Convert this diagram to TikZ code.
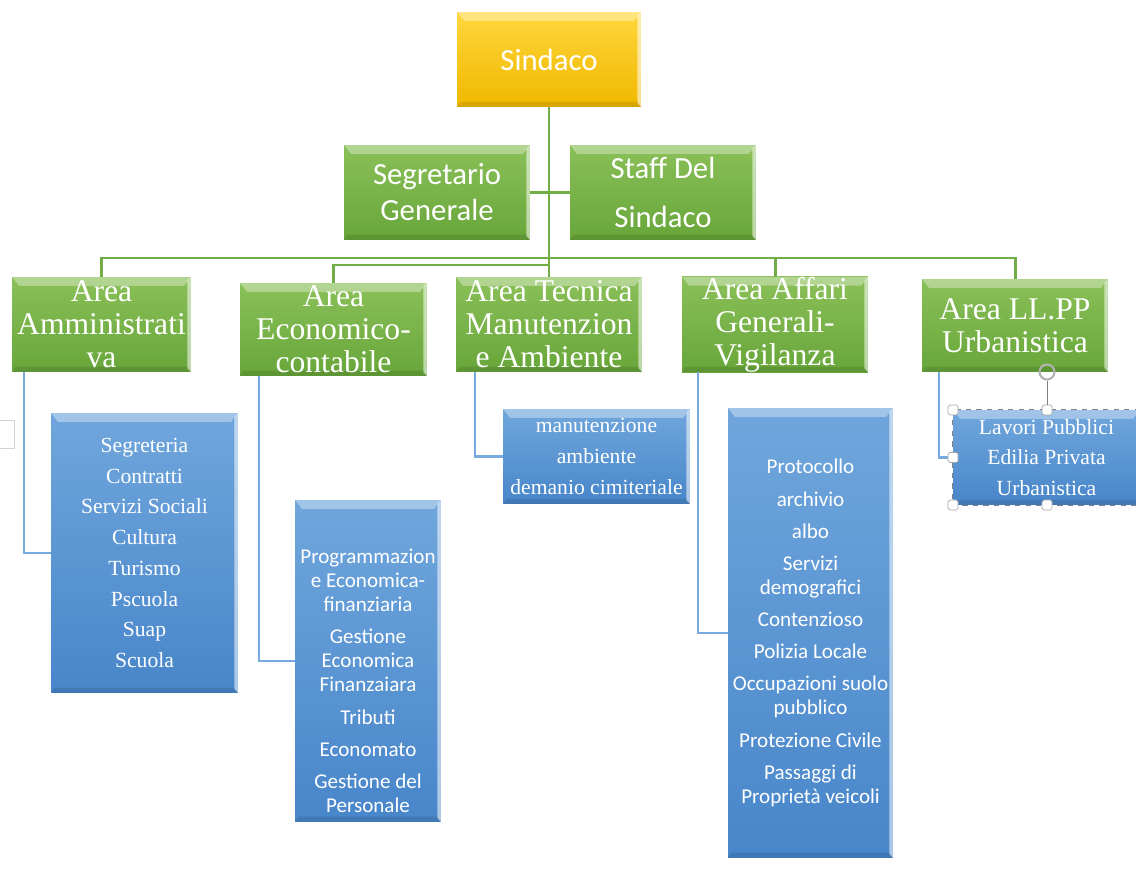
\documentclass[tikz,border=0pt]{standalone}
\usepackage{fontspec}
\setmainfont{Liberation Serif}
\newfontfamily\calibri{Carlito}
\usetikzlibrary{positioning}

\definecolor{goldtop}{RGB}{255,214,60}
\definecolor{goldbot}{RGB}{240,184,0}
\definecolor{greentop}{RGB}{138,192,88}
\definecolor{greenbot}{RGB}{104,166,58}
\definecolor{bluetop}{RGB}{112,166,220}
\definecolor{bluebot}{RGB}{72,134,202}
\definecolor{greenline}{RGB}{112,173,71}
\definecolor{blueline}{RGB}{120,170,222}

\begin{document}
\begin{tikzpicture}[x=0.02cm,y=-0.02cm,
    bevel/.style={path picture={
      \fill[white,opacity=0.35] (path picture bounding box.north west) -- (path picture bounding box.north east)
        -- ([shift={(-4pt,-5pt)}]path picture bounding box.north east) -- ([shift={(4pt,-5pt)}]path picture bounding box.north west) -- cycle;
      \fill[white,opacity=0.55] (path picture bounding box.north east) -- (path picture bounding box.south east)
        -- ([shift={(-2pt,2pt)}]path picture bounding box.south east) -- ([shift={(-2pt,-2pt)}]path picture bounding box.north east) -- cycle;
      \fill[black,opacity=0.10] (path picture bounding box.south west) -- (path picture bounding box.south east)
        -- ([shift={(-2pt,3pt)}]path picture bounding box.south east) -- ([shift={(2pt,3pt)}]path picture bounding box.south west) -- cycle;}},
    boss box/.style={bevel,top color=goldtop,bottom color=goldbot,text=white,align=center,inner sep=0pt,
      minimum width=3.68cm,minimum height=1.9cm,font=\calibri\fontsize{17.5}{20.5}\selectfont},
    staff box/.style={bevel,top color=greentop,bottom color=greenbot,text=white,align=center,inner sep=0pt,
      minimum width=3.72cm,minimum height=1.9cm,font=\calibri\fontsize{17.5}{20.5}\selectfont},
    area box/.style={bevel,top color=greentop,bottom color=greenbot,text=white,align=center,inner sep=0pt,
      minimum width=3.72cm,minimum height=1.86cm,font=\fontsize{18}{18.8}\selectfont},
    serif list/.style={bevel,top color=bluetop,bottom color=bluebot,text=white,align=center,inner sep=0pt,
      minimum width=3.74cm,minimum height=1.9cm,font=\fontsize{12.3}{17.5}\selectfont},
    sans list/.style={bevel,top color=bluetop,bottom color=bluebot,text=white,align=center,inner sep=0pt,
      font=\calibri\fontsize{12}{13.7}\selectfont},
    green link/.style={draw=greenline,line width=1.7pt},
    blue link/.style={draw=blueline,line width=1.2pt},
    handle/.style={draw=gray!70,fill=white,rounded corners=1pt,minimum size=0.2cm,inner sep=0pt}]

  \useasboundingbox (0,0) rectangle (1136,881);

  % top of the chart
  \node[boss box] (sindaco) at (549,59.5) {Sindaco};
  \node[staff box] (segretario) at (437,192.5) {Segretario\\Generale};
  \node[staff box,font=\calibri\fontsize{17.5}{28}\selectfont] (staff) at (663,192.5) {Staff Del\\Sindaco};

  % areas
  \node[area box,minimum width=3.58cm,minimum height=1.9cm] (amm) at (101.5,324.5) {Area\\Amministrati\\va};
  \node[area box,minimum width=3.74cm] (eco) at (333.5,329.5) {Area\\Economico-\\contabile};
  \node[area box,minimum height=1.9cm] (tecnica) at (549,324.5) {Area Tecnica\\Manutenzion\\e Ambiente};
  \node[area box,minimum height=1.9cm] (affari) at (775,324.5) {Area Affari\\Generali-\\Vigilanza};
  \node[area box] (llpp) at (1015,325.5) {Area LL.PP\\Urbanistica};

  % offices
  \node[serif list,minimum height=5.6cm] (segreteria) at (144.5,553)
    {Segreteria\\Contratti\\Servizi Sociali\\Cultura\\Turismo\\Pscuola\\Suap\\Scuola};
  \node[sans list,minimum width=2.92cm,minimum height=6.44cm] (programmazione) at (368,661)
    {\\[17pt]Programmazion\\e Economica-\\finanziaria\\[4.6pt]Gestione\\Economica\\Finanzaiara\\[4.6pt]Tributi\\[4.6pt]Economato\\[4.6pt]Gestione del\\Personale};
  \node[serif list] (manutenzione) at (596.5,456.5) {manutenzione\\ambiente\\demanio cimiteriale};
  \node[sans list,minimum width=3.3cm,minimum height=9cm] (protocollo) at (810.5,633)
    {Protocollo\\[4.6pt]archivio\\[4.6pt]albo\\[4.6pt]Servizi\\demografici\\[4.6pt]Contenzioso\\[4.6pt]Polizia Locale\\[4.6pt]Occupazioni suolo\\pubblico\\[4.6pt]Protezione Civile\\[4.6pt]Passaggi di\\Proprietà veicoli};
  \node[serif list] (lavori) at (1046.5,457.5) {Lavori Pubblici\\Edilia Privata\\Urbanistica};

  % green connectors
  \coordinate (bar1) at (549,258);
  \coordinate (bar2) at (549,265);
  \draw[green link] (sindaco.south) -- (tecnica.north);
  \draw[green link] (segretario.east) -- (staff.west);
  \draw[green link] (amm.north) |- (bar1) -| (llpp.north);
  \draw[green link] (affari.north) |- (bar1);
  \draw[green link] (eco.north) |- (bar2);

  % blue connectors
  \draw[blue link] ([xshift=0.24cm]amm.south west) |- (segreteria.west);
  \draw[blue link] ([xshift=0.38cm]eco.south west) |- (programmazione.west);
  \draw[blue link] ([xshift=0.38cm]tecnica.south west) |- (manutenzione.west);
  \draw[blue link] ([xshift=0.32cm]affari.south west) |- (protocollo.west);
  \draw[blue link] ([xshift=0.34cm]llpp.south west) |- (lavori.west);

  % selection frame
  \draw[gray,dashed] (lavori.north west) rectangle (lavori.south east);
  \node[circle,draw=gray!60,line width=1.2pt,minimum size=0.3cm,inner sep=0pt] (rotate) at (1047,372) {};
  \node[handle] (h1) at (953,410) {};
  \node[handle] (h2) at (1047,410) {};
  \node[handle] (h3) at (953,457.5) {};
  \node[handle] (h4) at (953,505) {};
  \node[handle] (h5) at (1047,505) {};
  \draw[gray] (rotate) -- (h2);
  \node[draw=gray!35,minimum width=0.36cm,minimum height=0.56cm,inner sep=0pt] (frag) at (5,434) {};
\end{tikzpicture}
\end{document}
